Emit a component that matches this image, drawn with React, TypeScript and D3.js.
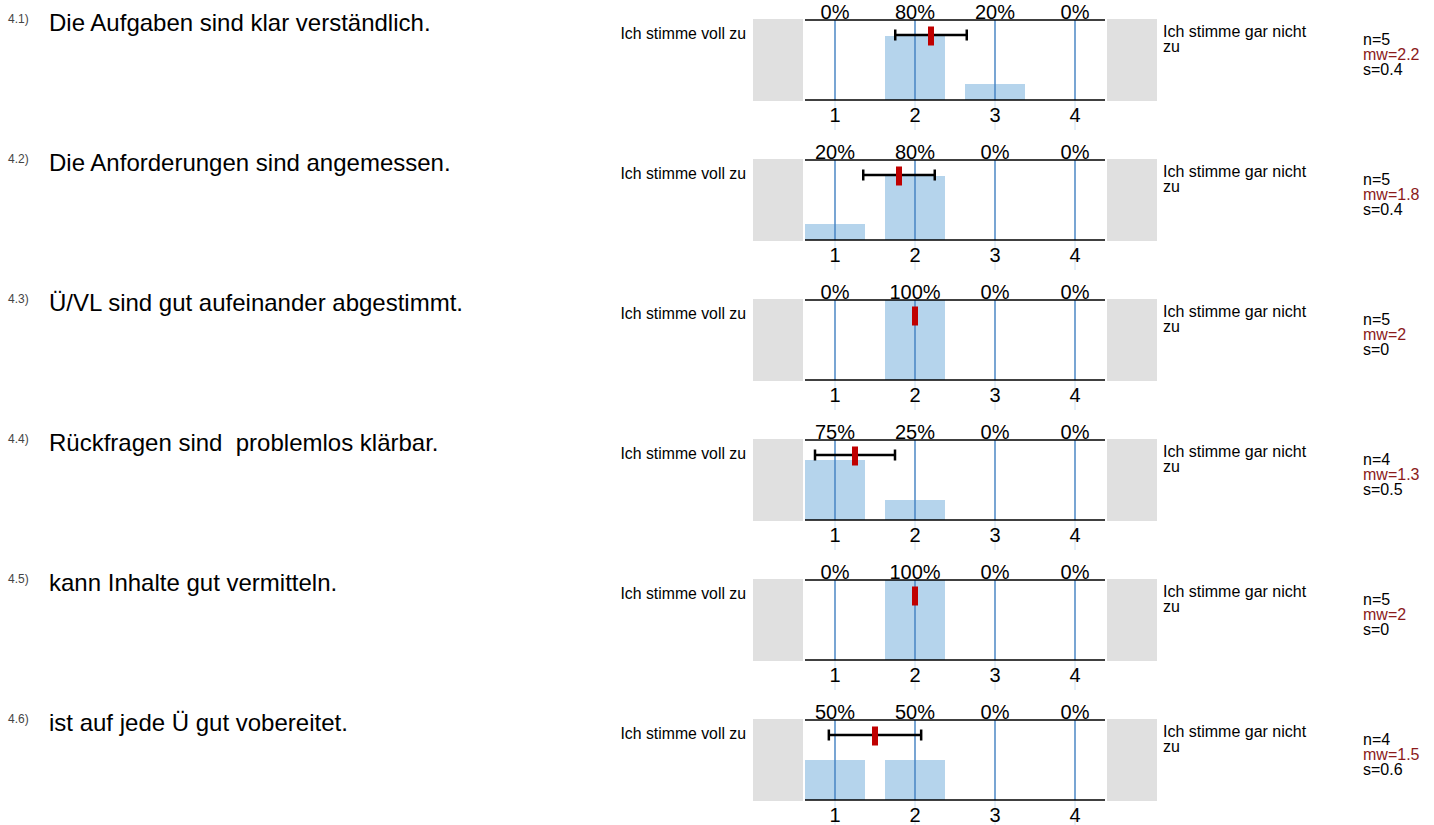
import React from "react";
import * as d3 from "d3";

const questionNumbers = ["4.1)", "4.2)", "4.3)", "4.4)", "4.5)", "4.6)"];
const questions = [
  "Die Aufgaben sind klar verständlich.",
  "Die Anforderungen sind angemessen.",
  "Ü/VL sind gut aufeinander abgestimmt.",
  "Rückfragen sind  problemlos klärbar.",
  "kann Inhalte gut vermitteln.",
  "ist auf jede Ü gut vobereitet.",
];
const scaleValues = [1, 2, 3, 4];
const percents = [
  [0, 80, 20, 0],
  [20, 80, 0, 0],
  [0, 100, 0, 0],
  [75, 25, 0, 0],
  [0, 100, 0, 0],
  [50, 50, 0, 0],
];
const nValues = [5, 5, 5, 4, 5, 4];
const means = [2.2, 1.8, 2, 1.25, 2, 1.5];
const sds = [0.447, 0.447, 0, 0.5, 0, 0.577];
const meanLabels = ["2.2", "1.8", "2", "1.3", "2", "1.5"];
const sdLabels = ["0.4", "0.4", "0", "0.5", "0", "0.6"];
const leftPole = "Ich stimme voll zu";
const rightPoleLines = ["Ich stimme gar nicht", "zu"];

const W = 1434;
const H = 825;
const ROW0 = 20;
const ROW_STEP = 140;
const PLOT_H = 80;
const FONT = "Liberation Sans, Arial, Helvetica, sans-serif";

export default function App() {
  const x = d3.scaleLinear().domain([0.625, 4.375]).range([805, 1105]);
  const y = d3.scaleLinear().domain([0, 100]).range([PLOT_H, 0]);
  const barW = x(1.375) - x(0.625);

  return (
    <svg
      width={W}
      height={H}
      style={{ position: "absolute", left: 0, top: 0, background: "#fff" }}
      fontFamily={FONT}
    >
      {questions.map((q, i) => {
        const top = ROW0 + i * ROW_STEP;
        const m = means[i];
        const s = sds[i];
        return (
          <g key={i} transform={`translate(0,${top})`}>
            <text x={8} y={3} fontSize={12} fill="#444">
              {questionNumbers[i]}
            </text>
            <text x={49} y={11} fontSize={24} fill="#000" style={{ whiteSpace: "pre" }}>
              {q}
            </text>
            <text x={746} y={19} fontSize={15.8} textAnchor="end" fill="#000">
              {leftPole}
            </text>
            <rect x={753} y={-1} width={50} height={PLOT_H + 2} fill="#e0e0e0" />
            <rect x={1107} y={-1} width={50} height={PLOT_H + 2} fill="#e0e0e0" />
            {rightPoleLines.map((t, k) => (
              <text key={k} x={1163} y={17 + k * 15} fontSize={16} fill="#000">
                {t}
              </text>
            ))}
            <text x={1363} y={25} fontSize={16} fill="#000">{`n=${nValues[i]}`}</text>
            <text x={1363} y={40} fontSize={16} fill="#8b1a1a">{`mw=${meanLabels[i]}`}</text>
            <text x={1363} y={55} fontSize={16} fill="#000">{`s=${sdLabels[i]}`}</text>
            {scaleValues.map((v, k) => (
              <rect
                key={`b${k}`}
                x={x(v) - barW / 2}
                y={y(percents[i][k])}
                width={barW}
                height={PLOT_H - y(percents[i][k])}
                fill="#b5d4ec"
              />
            ))}
            {scaleValues.map((v, k) => (
              <g key={`g${k}`}>
                <line x1={x(v)} x2={x(v)} y1={0} y2={PLOT_H} stroke="#3f7fc1" strokeWidth={1.4} />
                <line x1={x(v)} x2={x(v)} y1={PLOT_H} y2={PLOT_H + 30} stroke="#c8e0f4" strokeWidth={1} />
                <text x={x(v)} y={-1} fontSize={20} textAnchor="middle" fill="#000">
                  {`${percents[i][k]}%`}
                </text>
                <text x={x(v)} y={PLOT_H + 22} fontSize={20} textAnchor="middle" fill="#000">
                  {v}
                </text>
              </g>
            ))}
            <line x1={805} x2={1105} y1={0} y2={0} stroke="#000" strokeWidth={1.5} />
            <line x1={805} x2={1105} y1={PLOT_H} y2={PLOT_H} stroke="#000" strokeWidth={1.5} />
            {s > 0 && (
              <g stroke="#000" strokeWidth={2.5}>
                <line x1={x(m - s)} x2={x(m + s)} y1={15} y2={15} />
                <line x1={x(m - s)} x2={x(m - s)} y1={9.5} y2={20.5} />
                <line x1={x(m + s)} x2={x(m + s)} y1={9.5} y2={20.5} />
              </g>
            )}
            <rect x={x(m) - 3} y={6.5} width={6} height={19} fill="#c00000" />
          </g>
        );
      })}
    </svg>
  );
}
